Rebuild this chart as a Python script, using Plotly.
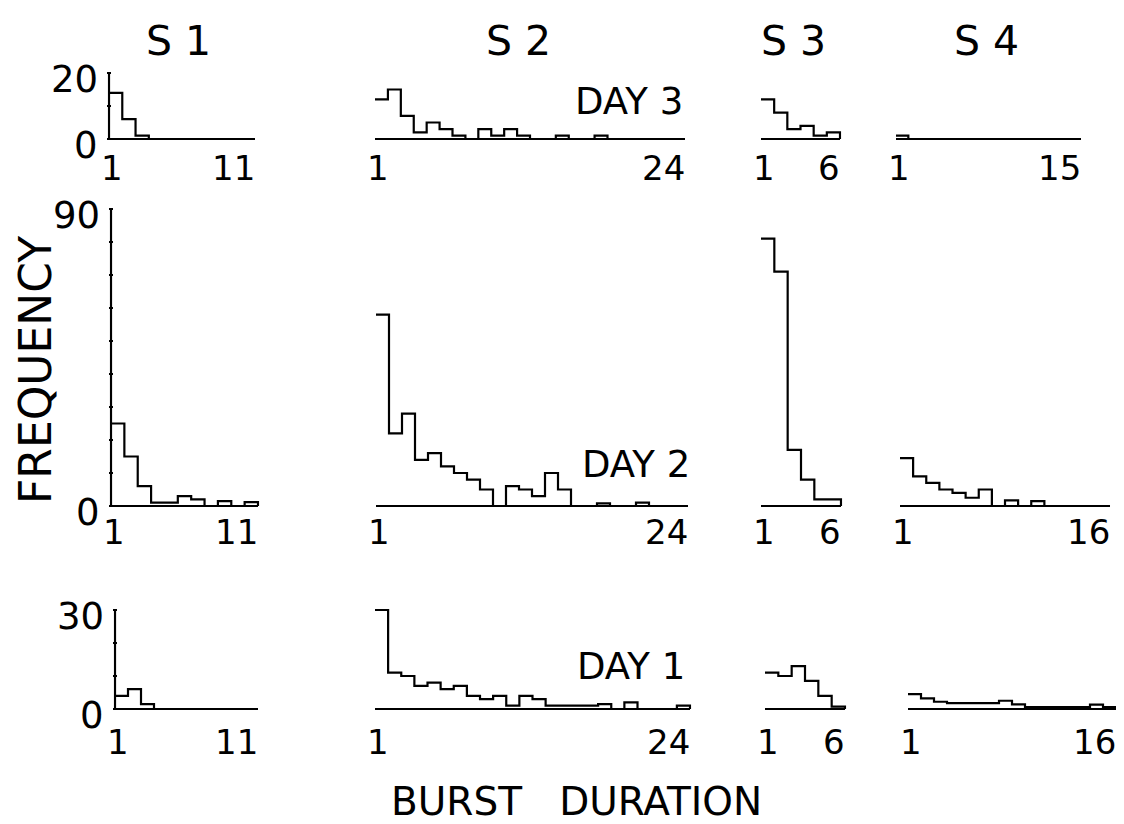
import plotly.graph_objects as go

W, H = 1124, 824

# ---------------- data (frequency per burst-duration bin) ----------------
subjects = ["S 1", "S 2", "S 3", "S 4"]
days = ["DAY 3", "DAY 2", "DAY 1"]

s1_day3 = [14, 6, 1, 0, 0, 0, 0, 0, 0, 0, 0]
s2_day3 = [12, 15, 7, 2, 5, 3, 1, 0, 3, 1, 3, 1, 0, 0, 1, 0, 0, 1, 0, 0, 0, 0, 0, 0]
s3_day3 = [12, 8, 3, 4, 1, 2]
s4_day3 = [1, 0, 0, 0, 0, 0, 0, 0, 0, 0, 0, 0, 0, 0, 0]

s1_day2 = [25, 15, 6, 1, 1, 3, 2, 0, 1.5, 0, 1.2]
s2_day2 = [58, 22, 28, 14, 16, 12, 10, 8, 5, 0, 6, 5, 3, 10, 5, 0, 0, 0.8, 0, 0, 1, 0, 0, 0]
s3_day2 = [81, 71, 17, 8, 2, 2]
s4_day2 = [14.5, 9, 7, 5, 4, 2.5, 5, 0, 1.7, 0, 1.5, 0, 0, 0, 0, 0]

s1_day1 = [4, 6, 1.5, 0, 0, 0, 0, 0, 0, 0, 0]
s2_day1 = [30, 11, 10, 7, 8, 6, 7, 4, 3, 4, 1, 4, 3, 1, 1, 1, 1, 1.5, 0, 2, 0, 0, 0, 1]
s3_day1 = [11, 10, 13, 8.5, 4, 0.7]
s4_day1 = [4.5, 3.2, 2.2, 1.8, 1.8, 1.8, 1.8, 2.5, 1.4, 0.6, 0.6, 0.6, 0.6, 0.6, 1.3, 0.6]

data = [
    [s1_day3, s2_day3, s3_day3, s4_day3],
    [s1_day2, s2_day2, s3_day2, s4_day2],
    [s1_day1, s2_day1, s3_day1, s4_day1],
]

x_tick_labels = [
    [["1", "11"], ["1", "24"], ["1", "6"], ["1", "15"]],
    [["1", "11"], ["1", "24"], ["1", "6"], ["1", "16"]],
    [["1", "11"], ["1", "24"], ["1", "6"], ["1", "16"]],
]
y_top_labels = [20, 90, 30]
y_tick_vals = [
    [0, 10, 20],
    [0, 10, 20, 30, 40, 50, 60, 70, 80, 90],
    [0, 10, 20, 30],
]

# ---------------- layout geometry (pixels) ----------------
row_baseline = [131, 498, 701]
px_per_unit = 3.3
row_range_top = [21, 92, 32]
y_low = -1.5
panel_px = [
    [(101, 247), (367, 677), (753, 832), (888, 1073)],
    [(103, 250), (368, 680), (753, 833), (892, 1102)],
    [(107, 250), (367, 682), (757, 837), (900, 1108)],
]
tick_label_yshift = [-29, -26, -33]
day_label_pos = [(677, 93), (684, 456), (679, 658)]
header_pos = [(170, 33), (510, 33), (785, 33), (978, 33)]

FONT = "DejaVu Sans"
LINE = dict(color="black", width=2.2)

fig = go.Figure()
layout_axes = {}
annotations = []

k = 0
for r in range(3):
    for c in range(4):
        k += 1
        vals = data[r][c]
        n = len(vals)
        x0p, x1p = panel_px[r][c]
        w = (x1p - x0p) / n
        pad = 0.12
        base = row_baseline[r]
        ytop = row_range_top[r]
        xdom = [(x0p - pad * w) / W, (x1p + pad * w) / W]
        ydom = [1 - (base - y_low * px_per_unit) / H, 1 - (base - ytop * px_per_unit) / H]
        xa = "x" if k == 1 else f"x{k}"
        ya = "y" if k == 1 else f"y{k}"
        xkey = "xaxis" if k == 1 else f"xaxis{k}"
        ykey = "yaxis" if k == 1 else f"yaxis{k}"
        layout_axes[xkey] = dict(domain=xdom, range=[-pad, n + pad], anchor=ya,
                                 showgrid=False, zeroline=False, showline=False,
                                 showticklabels=False, ticks="", fixedrange=True)
        yax = dict(domain=ydom, range=[y_low, ytop], anchor=xa,
                   showgrid=False, zeroline=False, showline=False,
                   showticklabels=False, fixedrange=True)
        if c == 0:
            yax.update(ticks="inside", tickvals=y_tick_vals[r], ticklen=4,
                       tickwidth=1.5, tickcolor="black")
        else:
            yax.update(ticks="")
        layout_axes[ykey] = yax

        # baseline
        fig.add_trace(go.Scatter(x=[0, n], y=[0, 0], mode="lines", line=LINE,
                                 xaxis=xa, yaxis=ya, hoverinfo="skip"))
        # histogram outline (steps)
        xs = list(range(n)) + [n, n]
        ys = list(vals) + [vals[-1], 0]
        fig.add_trace(go.Scatter(x=xs, y=ys, mode="lines", line=dict(LINE, shape="hv"),
                                 xaxis=xa, yaxis=ya))
        # y axis line for S1
        if c == 0:
            fig.add_trace(go.Scatter(x=[0, 0], y=[0, y_top_labels[r]], mode="lines",
                                     line=LINE, xaxis=xa, yaxis=ya, hoverinfo="skip"))
            for val in (0, y_top_labels[r]):
                annotations.append(dict(xref=xa, yref=ya, x=0, y=val, text=str(val),
                                        showarrow=False, xanchor="right", yanchor="middle",
                                        xshift=-9, yshift=-6,
                                        font=dict(family=FONT, size=37, color="black")))
        # x tick labels
        lab_first, lab_last = x_tick_labels[r][c]
        annotations.append(dict(xref=xa, yref=ya, x=0.25, y=0, text=lab_first,
                                showarrow=False, xanchor="center", yanchor="middle",
                                yshift=tick_label_yshift[r],
                                font=dict(family=FONT, size=34, color="black")))
        annotations.append(dict(xref=xa, yref=ya, x=n, y=0, text=lab_last,
                                showarrow=False, xanchor="right", yanchor="middle",
                                xshift=2, yshift=tick_label_yshift[r],
                                font=dict(family=FONT, size=34, color="black")))

# day labels
for (px, py), txt in zip(day_label_pos, days):
    annotations.append(dict(xref="paper", yref="paper", x=px / W, y=1 - py / H, text=txt,
                            showarrow=False, xanchor="right", yanchor="middle",
                            font=dict(family=FONT, size=37, color="black")))
# column headers
for (px, py), txt in zip(header_pos, subjects):
    annotations.append(dict(xref="paper", yref="paper", x=px / W, y=1 - py / H, text=txt,
                            showarrow=False, xanchor="center", yanchor="middle",
                            font=dict(family=FONT, size=41, color="black")))
# axis titles
annotations.append(dict(xref="paper", yref="paper", x=27 / W, y=1 - 362 / H, text="FREQUENCY",
                        textangle=-90, showarrow=False, xanchor="center", yanchor="middle",
                        font=dict(family=FONT, size=44, color="black")))
annotations.append(dict(xref="paper", yref="paper", x=568 / W, y=1 - 793 / H,
                        text="BURST\u00a0\u00a0\u00a0DURATION",
                        showarrow=False, xanchor="center", yanchor="middle",
                        font=dict(family=FONT, size=39, color="black")))

fig.update_layout(
    width=W, height=H,
    margin=dict(l=0, r=0, t=0, b=0),
    paper_bgcolor="white", plot_bgcolor="white",
    showlegend=False,
    annotations=annotations,
    **layout_axes,
)

fig.write_html("out.html")
